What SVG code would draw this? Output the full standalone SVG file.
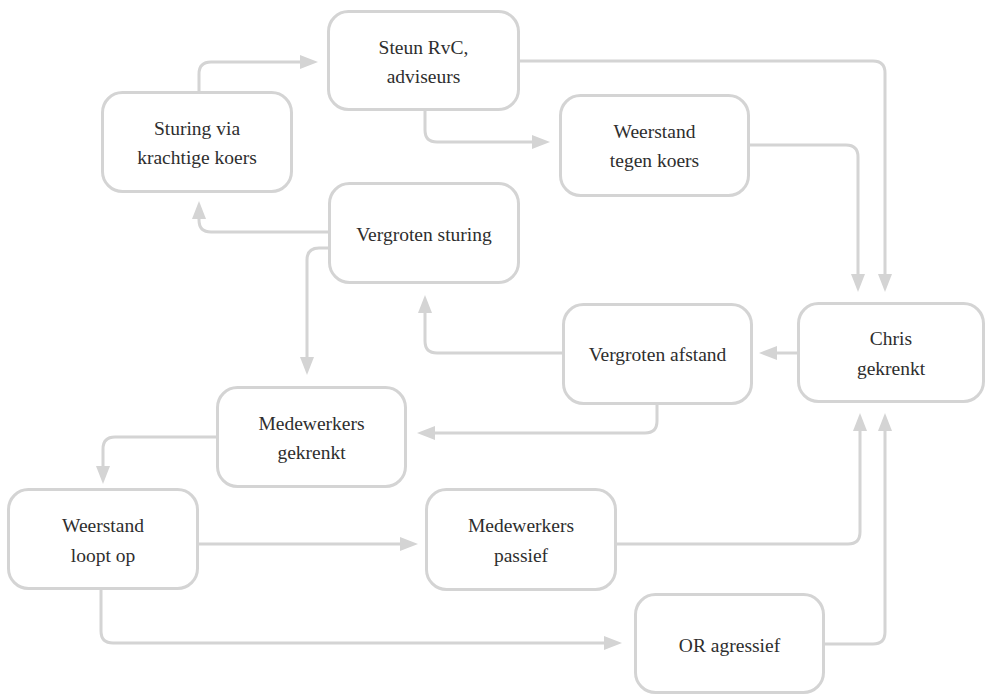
<svg xmlns="http://www.w3.org/2000/svg" width="988" height="695" viewBox="0 0 988 695">
<style>
.box{fill:#ffffff;stroke:#d4d4d4;stroke-width:3}
.lbl{font-family:"Liberation Serif","Times New Roman",serif;font-size:19.5px;fill:#2e2e2e;text-anchor:middle}
.con{fill:none;stroke:#d4d4d4;stroke-width:3}
</style>
<defs>
<marker id="ah" markerUnits="userSpaceOnUse" markerWidth="18" markerHeight="14" refX="8" refY="7" orient="auto">
<path d="M0,0 L18,7 L0,14 z" fill="#d4d4d4"/>
</marker>
</defs>
<rect width="988" height="695" fill="#ffffff"/>
<g id="connectors">
<path class="con" marker-end="url(#ah)" d="M199,91 V74 Q199,62 211,62 H308"/>
<path class="con" marker-end="url(#ah)" d="M425,111 V130 Q425,142 437,142 H540"/>
<path class="con" marker-end="url(#ah)" d="M520,61 H873 Q885,61 885,73 V282"/>
<path class="con" marker-end="url(#ah)" d="M750,145 H846 Q858,145 858,157 V282"/>
<path class="con" marker-end="url(#ah)" d="M329,232 H211 Q199,232 199,220 V211"/>
<path class="con" marker-end="url(#ah)" d="M329,248 H319 Q307,248 307,260 V365"/>
<path class="con" marker-end="url(#ah)" d="M563,353 H437 Q425,353 425,341 V305"/>
<path class="con" marker-end="url(#ah)" d="M798,353 H769"/>
<path class="con" marker-end="url(#ah)" d="M657,405 V421 Q657,433 645,433 H427"/>
<path class="con" marker-end="url(#ah)" d="M217,437 H115 Q103,437 103,449 V474"/>
<path class="con" marker-end="url(#ah)" d="M198,544 H408"/>
<path class="con" marker-end="url(#ah)" d="M101,590 V631 Q101,643 113,643 H612"/>
<path class="con" marker-end="url(#ah)" d="M616,544 H848 Q860,544 860,532 V423"/>
<path class="con" marker-end="url(#ah)" d="M824,644 H873 Q885,644 885,632 V423"/>
</g>
<g id="steun">
<rect class="box" x="328.5" y="11.5" width="190" height="98" rx="20"/>
<text class="lbl" x="423.5" y="54">Steun RvC,</text>
<text class="lbl" x="423.5" y="83">adviseurs</text>
</g>
<g id="sturing">
<rect class="box" x="102.5" y="92.5" width="189" height="99" rx="20"/>
<text class="lbl" x="197" y="135">Sturing via</text>
<text class="lbl" x="197" y="164">krachtige koers</text>
</g>
<g id="weerstand-koers">
<rect class="box" x="560.5" y="95.5" width="188" height="100" rx="20"/>
<text class="lbl" x="654.5" y="138">Weerstand</text>
<text class="lbl" x="654.5" y="167">tegen koers</text>
</g>
<g id="vergroten-sturing">
<rect class="box" x="329.5" y="183.5" width="189" height="99" rx="20"/>
<text class="lbl" x="424" y="241">Vergroten sturing</text>
</g>
<g id="vergroten-afstand">
<rect class="box" x="563.5" y="304.5" width="188" height="99" rx="20"/>
<text class="lbl" x="657.5" y="361">Vergroten afstand</text>
</g>
<g id="chris">
<rect class="box" x="798.5" y="303.5" width="185" height="98" rx="20"/>
<text class="lbl" x="891" y="345">Chris</text>
<text class="lbl" x="891" y="375">gekrenkt</text>
</g>
<g id="medewerkers-gekrenkt">
<rect class="box" x="217.5" y="387.5" width="188" height="99" rx="20"/>
<text class="lbl" x="311.5" y="430">Medewerkers</text>
<text class="lbl" x="311.5" y="459">gekrenkt</text>
</g>
<g id="weerstand-loopt-op">
<rect class="box" x="8.5" y="489.5" width="189" height="99" rx="20"/>
<text class="lbl" x="103" y="532">Weerstand</text>
<text class="lbl" x="103" y="562">loopt op</text>
</g>
<g id="medewerkers-passief">
<rect class="box" x="426.5" y="489.5" width="189" height="100" rx="20"/>
<text class="lbl" x="521" y="532">Medewerkers</text>
<text class="lbl" x="521" y="562">passief</text>
</g>
<g id="or-agressief">
<rect class="box" x="635.5" y="594.5" width="188" height="98" rx="20"/>
<text class="lbl" x="729.5" y="652">OR agressief</text>
</g>
</svg>
